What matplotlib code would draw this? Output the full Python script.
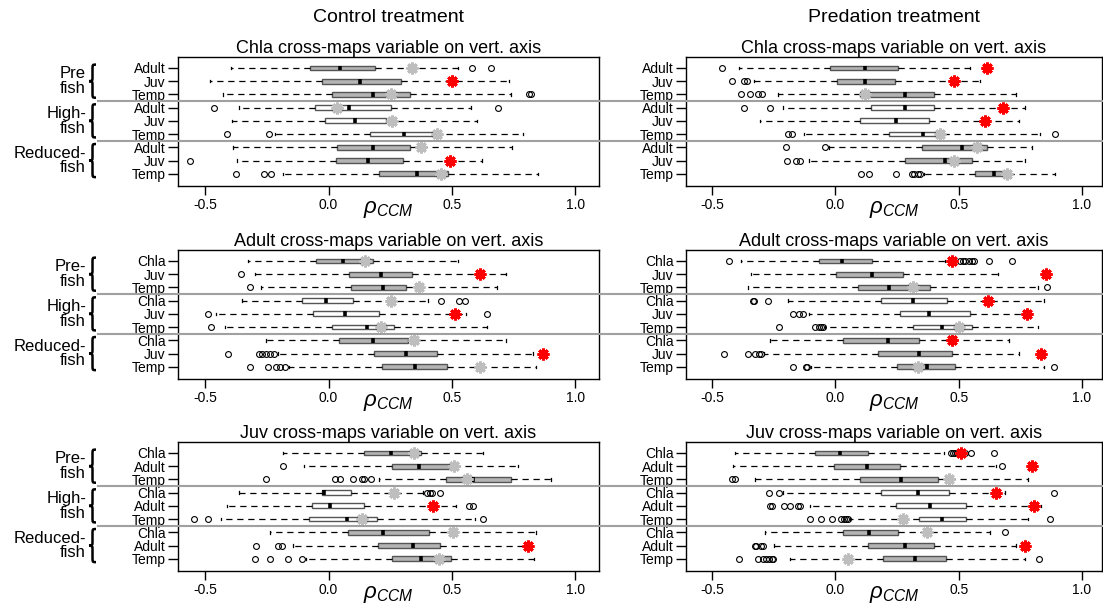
import matplotlib

matplotlib.use("Agg")
import matplotlib.pyplot as plt
from matplotlib.lines import Line2D
from matplotlib.patches import PathPatch
from matplotlib.path import Path
from matplotlib.transforms import blended_transform_factory

plt.rcParams["font.family"] = "Liberation Sans"
plt.rcParams["axes.unicode_minus"] = False
plt.rcParams["mathtext.fontset"] = "custom"
plt.rcParams["mathtext.it"] = "Liberation Sans:italic"
plt.rcParams["mathtext.rm"] = "Liberation Sans"

# --- data -------------------------------------------------------------------
treatments = ["Control treatment", "Predation treatment"]
panel_titles = [
    "Chla cross-maps variable on vert. axis",
    "Adult cross-maps variable on vert. axis",
    "Juv cross-maps variable on vert. axis",
]
row_labels = [
    ["Adult", "Juv", "Temp"],
    ["Chla", "Juv", "Temp"],
    ["Chla", "Adult", "Temp"],
]
group_labels = [
    ["Pre\nfish", "High-\nfish", "Reduced-\nfish"],
    ["Pre-\nfish", "High-\nfish", "Reduced-\nfish"],
    ["Pre-\nfish", "High-\nfish", "Reduced-\nfish"],
]

# (lower whisker, q1, median, q3, upper whisker) per row
ctrl_chla_box = [
    (-0.396, -0.075, 0.047, 0.189, 0.525),
    (-0.481, -0.025, 0.127, 0.295, 0.733),
    (-0.429, 0.012, 0.182, 0.329, 0.741),
    (-0.362, -0.056, 0.084, 0.255, 0.578),
    (-0.393, -0.016, 0.109, 0.233, 0.601),
    (-0.217, 0.166, 0.306, 0.430, 0.787),
    (-0.388, 0.034, 0.182, 0.332, 0.745),
    (-0.373, 0.030, 0.158, 0.301, 0.621),
    (-0.186, 0.205, 0.357, 0.484, 0.849),
]
ctrl_chla_out = [[0.581, 0.660], [], [0.811, 0.823], [-0.463, 0.686], [],
                 [-0.411, -0.241], [], [-0.564], [-0.374, -0.264, -0.233]]
ctrl_chla_obs = [0.337, 0.500, 0.255, 0.034, 0.259, 0.438, 0.376, 0.492, 0.457]
ctrl_chla_sig = [0, 1, 0, 0, 0, 0, 0, 1, 0]

pred_chla_box = [
    (-0.391, -0.020, 0.121, 0.256, 0.548),
    (-0.330, 0.005, 0.121, 0.242, 0.585),
    (-0.234, 0.102, 0.281, 0.402, 0.731),
    (-0.213, 0.145, 0.281, 0.402, 0.767),
    (-0.306, 0.099, 0.248, 0.381, 0.745),
    (-0.127, 0.219, 0.356, 0.438, 0.831),
    (-0.027, 0.352, 0.514, 0.614, 0.796),
    (-0.106, 0.281, 0.443, 0.553, 0.767),
    (0.360, 0.567, 0.643, 0.700, 0.889),
]
pred_chla_out = [[-0.459], [-0.420, -0.370, -0.356], [-0.384, -0.344, -0.313, -0.298],
                 [-0.370, -0.263], [], [-0.191, -0.177, 0.891], [-0.201, -0.041],
                 [-0.196, -0.158, -0.141], [0.105, 0.138, 0.248, 0.309, 0.321, 0.334, 0.343]]
pred_chla_obs = [0.614, 0.481, 0.121, 0.678, 0.605, 0.424, 0.574, 0.481, 0.696]
pred_chla_sig = [1, 1, 0, 1, 1, 0, 0, 0, 0]

ctrl_adult_box = [
    (-0.326, -0.051, 0.057, 0.182, 0.526),
    (-0.300, 0.081, 0.213, 0.337, 0.720),
    (-0.276, 0.089, 0.220, 0.314, 0.682),
    (-0.351, -0.109, -0.010, 0.099, 0.404),
    (-0.455, -0.062, 0.065, 0.205, 0.559),
    (-0.419, 0.012, 0.155, 0.267, 0.643),
    (-0.253, 0.042, 0.182, 0.321, 0.720),
    (-0.207, 0.186, 0.314, 0.438, 0.829),
    (-0.160, 0.217, 0.352, 0.481, 0.842),
]
ctrl_adult_out = [[], [-0.354], [-0.320], [0.457, 0.528, 0.554], [-0.491, 0.643], [-0.478], [],
                  [-0.408, -0.284, -0.269, -0.253, -0.238, -0.222],
                  [-0.320, -0.245, -0.214, -0.199, -0.175]]
ctrl_adult_obs = [0.146, 0.616, 0.368, 0.255, 0.511, 0.213, 0.348, 0.870, 0.616]
ctrl_adult_sig = [0, 1, 0, 0, 1, 0, 0, 1, 0]

pred_adult_box = [
    (-0.384, -0.067, 0.028, 0.148, 0.445),
    (-0.340, 0.002, 0.148, 0.273, 0.660),
    (-0.353, 0.091, 0.219, 0.385, 0.820),
    (-0.191, 0.185, 0.316, 0.453, 0.846),
    (-0.105, 0.262, 0.381, 0.548, 0.767),
    (-0.041, 0.316, 0.431, 0.553, 0.820),
    (-0.263, 0.033, 0.213, 0.338, 0.705),
    (-0.287, 0.173, 0.338, 0.474, 0.745),
    (-0.098, 0.252, 0.370, 0.485, 0.846),
]
pred_adult_out = [[-0.430, 0.507, 0.517, 0.524, 0.540, 0.553, 0.564, 0.621, 0.717], [], [0.860],
                  [-0.334, -0.330, -0.272], [-0.170, -0.149, -0.130],
                  [-0.230, -0.081, -0.067, -0.058, -0.048], [],
                  [-0.449, -0.353, -0.327, -0.310, -0.301], [-0.170, -0.120, -0.113, 0.886]]
pred_adult_obs = [0.474, 0.853, 0.314, 0.617, 0.777, 0.500, 0.474, 0.834, 0.334]
pred_adult_sig = [1, 1, 0, 1, 1, 0, 1, 1, 0]

ctrl_juv_box = [
    (-0.186, 0.143, 0.255, 0.376, 0.627),
    (-0.101, 0.259, 0.368, 0.508, 0.767),
    (0.205, 0.477, 0.585, 0.741, 0.904),
    (-0.362, -0.028, -0.020, 0.089, 0.384),
    (-0.413, -0.067, 0.006, 0.143, 0.516),
    (-0.435, -0.078, 0.073, 0.197, 0.593),
    (-0.238, 0.078, 0.220, 0.407, 0.842),
    (-0.144, 0.202, 0.342, 0.450, 0.811),
    (-0.090, 0.259, 0.376, 0.497, 0.834),
]
ctrl_juv_out = [[], [-0.186], [-0.253, 0.026, 0.047, 0.099, 0.135, 0.143, 0.171],
                [0.399, 0.410, 0.419, 0.453], [0.570, 0.585], [-0.548, -0.491, 0.627], [],
                [-0.295, -0.207, -0.191], [-0.300, -0.238, -0.165, -0.106]]
ctrl_juv_obs = [0.345, 0.508, 0.562, 0.267, 0.425, 0.135, 0.503, 0.807, 0.446]
ctrl_juv_sig = [0, 0, 0, 0, 1, 0, 0, 1, 0]

pred_juv_box = [
    (-0.406, -0.081, 0.019, 0.133, 0.442),
    (-0.413, -0.005, 0.130, 0.262, 0.653),
    (-0.324, 0.099, 0.266, 0.417, 0.781),
    (-0.213, 0.185, 0.334, 0.459, 0.688),
    (-0.101, 0.248, 0.385, 0.528, 0.834),
    (0.059, 0.338, 0.431, 0.528, 0.781),
    (-0.284, 0.033, 0.138, 0.256, 0.628),
    (-0.248, 0.133, 0.281, 0.399, 0.731),
    (-0.184, 0.195, 0.324, 0.448, 0.767),
]
pred_juv_out = [[0.468, 0.476, 0.485, 0.492, 0.527, 0.550, 0.643], [0.677], [-0.420, -0.406],
                [-0.270, -0.230, 0.886], [-0.263, -0.258, -0.206, -0.184, -0.152, -0.144],
                [-0.101, -0.058, -0.015, 0.023, 0.037, 0.045, 0.052, 0.871], [0.688],
                [-0.327, -0.320, -0.301, -0.291],
                [-0.391, -0.315, -0.294, -0.280, -0.267, -0.256, -0.252, 0.824]]
pred_juv_obs = [0.510, 0.796, 0.459, 0.653, 0.806, 0.274, 0.371, 0.767, 0.052]
pred_juv_sig = [1, 1, 0, 1, 1, 0, 0, 1, 0]

panels = [
    [(ctrl_chla_box, ctrl_chla_out, ctrl_chla_obs, ctrl_chla_sig),
     (pred_chla_box, pred_chla_out, pred_chla_obs, pred_chla_sig)],
    [(ctrl_adult_box, ctrl_adult_out, ctrl_adult_obs, ctrl_adult_sig),
     (pred_adult_box, pred_adult_out, pred_adult_obs, pred_adult_sig)],
    [(ctrl_juv_box, ctrl_juv_out, ctrl_juv_obs, ctrl_juv_sig),
     (pred_juv_box, pred_juv_out, pred_juv_obs, pred_juv_sig)],
]

xticks = [-0.5, 0.0, 0.5, 1.0]
xtick_labels = ["-0.5", "0.0", "0.5", "1.0"]

# --- layout (pixels) ----------------------------------------------------------
W, H = 1103, 606
col_x = [178, 686]
col_w = [421, 416]
col_xlim = [(-0.611, 1.097), (-0.605, 1.081)]
row_top = [57, 250, 442]
row_h = 129
positions = list(range(1, 10))
group_fill = ["#b4b4b4", "white", "#b4b4b4"]
STAR_RED = "#ff0000"
STAR_GREY = "#bebebe"

fig = plt.figure(figsize=(W / 100, H / 100), dpi=100)


def draw_brace(ax, y0, y1, x_tip, x_end):
    """Curly brace opening to the right, x in figure fraction, y in data."""
    tr = blended_transform_factory(fig.transFigure, ax.transData)
    xm = (x_tip + x_end) / 2
    h = y1 - y0
    ym = (y0 + y1) / 2
    verts = [
        (x_end, y0),
        (xm, y0), (xm, y0), (xm, y0 + 0.15 * h),
        (xm, ym - 0.12 * h),
        (xm, ym - 0.02 * h), (xm, ym), (x_tip, ym),
        (xm, ym), (xm, ym + 0.02 * h), (xm, ym + 0.12 * h),
        (xm, y1 - 0.15 * h),
        (xm, y1), (xm, y1), (x_end, y1),
    ]
    codes = [Path.MOVETO,
             Path.CURVE4, Path.CURVE4, Path.CURVE4,
             Path.LINETO,
             Path.CURVE4, Path.CURVE4, Path.CURVE4,
             Path.CURVE4, Path.CURVE4, Path.CURVE4,
             Path.LINETO,
             Path.CURVE4, Path.CURVE4, Path.CURVE4]
    patch = PathPatch(Path(verts, codes), transform=tr, fill=False,
                      edgecolor="black", linewidth=1.8, clip_on=False)
    fig.add_artist(patch)


def draw_panel(ax, boxes, outliers, obs, sig, labels, xlim):
    stats = [
        dict(whislo=b[0], q1=b[1], med=b[2], q3=b[3], whishi=b[4], fliers=o)
        for b, o in zip(boxes, outliers)
    ]
    art = ax.bxp(
        stats,
        positions=positions,
        widths=0.36,
        orientation="horizontal",
        patch_artist=True,
        manage_ticks=False,
        capwidths=0.18,
        boxprops=dict(edgecolor="#555555", linewidth=1.0),
        whiskerprops=dict(color="black", linewidth=0.9, linestyle=(0, (5, 3.8))),
        capprops=dict(color="black", linewidth=0.9),
        medianprops=dict(color="black", linewidth=2.6, solid_capstyle="butt"),
        flierprops=dict(marker="o", markerfacecolor="none", markeredgecolor="black",
                        markersize=4.2, markeredgewidth=0.8, linestyle="none"),
    )
    for i, patch in enumerate(art["boxes"]):
        patch.set_facecolor(group_fill[i // 3])
    for p, v, s in zip(positions, obs, sig):
        ax.plot(v, p, linestyle="none", marker=(8, 2, 0), markersize=8.5,
                markeredgewidth=2.1, color=STAR_RED if s else STAR_GREY, zorder=6)

    ax.set_xlim(*xlim)
    ax.set_ylim(9.92, 0.175)
    ax.set_yticks(positions)
    ax.set_yticklabels(labels * 3)
    ax.set_xticks(xticks)
    ax.set_xticklabels(xtick_labels)
    ax.tick_params(axis="y", length=7, width=1, pad=2, labelsize=10)
    ax.tick_params(axis="x", length=6.5, width=1, pad=2, labelsize=10)
    for sp in ax.spines.values():
        sp.set_linewidth(1.0)


for r in range(3):
    for c in range(2):
        top = row_top[r]
        ax = fig.add_axes([col_x[c] / W, 1 - (top + row_h) / H, col_w[c] / W, row_h / H])
        boxes, outs, obs, sig = panels[r][c]
        draw_panel(ax, boxes, outs, obs, sig, row_labels[r], col_xlim[c])
        ax.set_title(panel_titles[r], fontsize=13, pad=3)
        ax.annotate(r"$\rho_{CCM}$", xy=(0.5, 0), xycoords="axes fraction",
                    xytext=(0, -17), textcoords="offset points",
                    ha="center", va="center", fontsize=16)
        if r == 0:
            fig.text((col_x[c] + col_w[c] / 2) / W, 1 - 18 / H, treatments[c],
                     ha="center", va="center", fontsize=14)
        if c == 0:
            # group separators run across both panels of the row
            tr = blended_transform_factory(fig.transFigure, ax.transData)
            for ysep in (3.5, 6.5):
                fig.add_artist(Line2D([98 / W, 1.0], [ysep, ysep], transform=tr,
                                      color="#a0a0a0", linewidth=1.5, zorder=3))
            for g in range(3):
                yc = 2 + 3 * g
                fig.text(86 / W, yc, group_labels[r][g], transform=tr,
                         ha="right", va="center", fontsize=12, linespacing=0.95)
                draw_brace(ax, yc - 1.25, yc + 1.25, 89 / W, 96 / W)

fig.savefig("out.png", dpi=100)
